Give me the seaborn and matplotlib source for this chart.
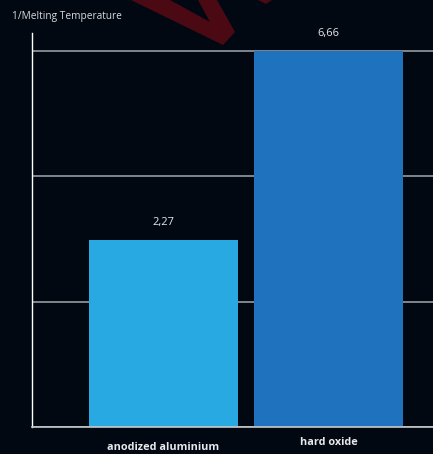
import numpy as np
import pandas as pd
import matplotlib.pyplot as plt
import seaborn as sns
from matplotlib.patches import Polygon
from matplotlib.transforms import blended_transform_factory

categories = ['anodized aluminium', 'hard oxide']
value_labels = ['2,27', '6,66']
bar_heights = [3.31, 6.66]   # heights as drawn in the picture
bar_colors = ['#29a9e1', '#1f72bd']
grid_ticks = [0, 2.22, 4.44, 6.66]

bg = '#020812'
sns.set_theme(style='dark')
plt.rcParams['font.family'] = ['Open Sans', 'DejaVu Sans']

fig = plt.figure(figsize=(4.33, 4.54), dpi=100, facecolor=bg)

# decorative red chevron at the top (pixel coords -> figure fraction)
def px(pts):
    return [(x / 433, 1 - y / 454) for x, y in pts]

chevron = [(131, 0), (170, 0), (210, 22), (198, 0), (217, 0), (235, 32), (223, 45)]
fig.patches.append(Polygon(px(chevron), closed=True, transform=fig.transFigure,
                           facecolor='#4a0913', edgecolor='none', zorder=0))
fig.patches.append(Polygon(px([(258, 0), (272, 0), (266, 4)]), closed=True,
                           transform=fig.transFigure, facecolor='#4a0913',
                           edgecolor='none', zorder=0))

ax = fig.add_axes([32 / 433, 1 - 427 / 454, 1 - 32 / 433, (427 - 33) / 454])
ax.set_facecolor('none')

df = pd.DataFrame({'material': categories, 'value': bar_heights})
sns.barplot(data=df, x='material', y='value', hue='material', palette=bar_colors,
            width=0.9, legend=False, ax=ax, zorder=2, saturation=1, linewidth=0)

ax.set_xlim(-0.797, 1.633)
ax.set_ylim(0, 6.98)
ax.set_yticks(grid_ticks)
ax.set_yticklabels([])
ax.tick_params(length=0)
ax.grid(axis='y', color='#8b8f95', linewidth=1.3, zorder=0)
ax.grid(axis='x', visible=False)
ax.set_xlabel('')
ax.set_ylabel('')
ax.set_xticklabels([])

for s in ['top', 'right']:
    ax.spines[s].set_visible(False)
ax.spines['left'].set_color('#ffffff')
ax.spines['left'].set_linewidth(1.0)
ax.spines['bottom'].set_color('#c8cacc')
ax.spines['bottom'].set_linewidth(1.2)

for i, (h, lab) in enumerate(zip(bar_heights, value_labels)):
    ax.annotate(lab, (i, h), xytext=(0, 13), textcoords='offset points',
                ha='center', va='center', color='#e6e8ea', fontsize=8)

trans = blended_transform_factory(ax.transData, ax.transAxes)
cat_y = [-0.052, -0.039]
for i, (c, yy) in enumerate(zip(categories, cat_y)):
    ax.text(i, yy, c, transform=trans, ha='center', va='center',
            color='#e8e9eb', fontsize=7.8, fontweight='bold')

fig.text(12 / 433, 1 - 17 / 454, '1/Melting Temperature', ha='left', va='center',
         color='#d8dadc', fontsize=7.3)

fig.savefig('out.png', dpi=100, facecolor=bg)
